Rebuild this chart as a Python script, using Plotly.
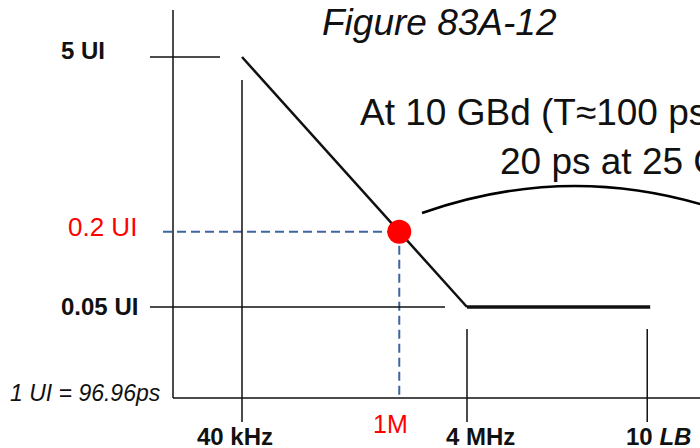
import math
import plotly.graph_objects as go

# ---------------- data ----------------
mask_diag_freq = [40e3, 4e6]          # Hz
mask_diag_ui = [5, 0.05]              # UI
mask_flat_freq = [4e6, 1.7e8]
mask_flat_ui = [0.05, 0.05]

point_freq = [1e6]
point_ui = [0.2]

freq_tick_vals = [40e3, 1e6, 4e6, 1.6e8]
freq_tick_labels = ["<b>40 kHz</b>", "1M", "<b>4 MHz</b>", "<b>10 <i>LB</i></b>"]
ui_tick_vals = [5, 0.2, 0.05]
ui_tick_labels = ["<b>5 UI</b>", "0.2 UI", "<b>0.05 UI</b>"]

title_text = "<i>Figure 83A-12</i>"
note_line1 = "At 10 GBd (T≈100 ps)"
note_line2 = "20 ps at 25 GBd"
ui_note = "<i>1 UI = 96.96ps</i>"

# ---------------- scale setup ----------------
W, H = 700, 448
PX_X = 112.5   # pixels per decade (x)
PX_Y = 125.0   # pixels per decade (y)
xmin_log = math.log10(40e3) - 242 / PX_X
xmax_log = xmin_log + W / PX_X
ymax_log = math.log10(5) + 57 / PX_Y
ymin_log = ymax_log - H / PX_Y


def px_to_x(px):
    return 10 ** (xmin_log + px / PX_X)


def px_to_y(py):
    return 10 ** (ymax_log - py / PX_Y)


def pxp(px):
    return px / W


def pyp(py):
    return 1 - py / H


FONT = "Arial, 'Liberation Sans', sans-serif"
BLACK = "#111111"
RED = "#ff0000"
BLUE = "#3d66a0"

fig = go.Figure()

# dashed guides to the point
fig.add_trace(go.Scatter(x=[px_to_x(163), point_freq[0]], y=[point_ui[0], point_ui[0]],
                         mode="lines", line=dict(color=BLUE, width=2, dash="9px,5px"),
                         hoverinfo="skip"))
fig.add_trace(go.Scatter(x=[point_freq[0], point_freq[0]], y=[point_ui[0], px_to_y(398)],
                         mode="lines", line=dict(color=BLUE, width=2, dash="9px,5px"),
                         hoverinfo="skip"))
# mask
fig.add_trace(go.Scatter(x=mask_diag_freq, y=mask_diag_ui, mode="lines",
                         line=dict(color=BLACK, width=2.5), hoverinfo="skip"))
fig.add_trace(go.Scatter(x=mask_flat_freq, y=mask_flat_ui, mode="lines",
                         line=dict(color=BLACK, width=3.5), hoverinfo="skip"))
# point
fig.add_trace(go.Scatter(x=point_freq, y=point_ui, mode="markers",
                         marker=dict(color=RED, size=24, line=dict(width=0)), hoverinfo="skip"))

shapes = []
LW = 1.5
# axes
shapes.append(dict(type="line", xref="paper", yref="paper", x0=pxp(173), x1=pxp(173),
                   y0=pyp(398), y1=pyp(10), line=dict(color=BLACK, width=LW)))
shapes.append(dict(type="line", xref="paper", yref="paper", x0=pxp(173), x1=1.0,
                   y0=pyp(398), y1=pyp(398), line=dict(color=BLACK, width=LW)))
# y tick lines
shapes.append(dict(type="line", xref="paper", yref="y", x0=pxp(150), x1=pxp(220),
                   y0=ui_tick_vals[0], y1=ui_tick_vals[0], line=dict(color=BLACK, width=LW)))
shapes.append(dict(type="line", xref="paper", yref="y", x0=pxp(150), x1=pxp(445),
                   y0=ui_tick_vals[2], y1=ui_tick_vals[2], line=dict(color=BLACK, width=LW)))
# x tick lines
shapes.append(dict(type="line", xref="x", yref="paper", x0=freq_tick_vals[0], x1=freq_tick_vals[0],
                   y0=pyp(422), y1=pyp(80), line=dict(color=BLACK, width=LW)))
shapes.append(dict(type="line", xref="x", yref="paper", x0=freq_tick_vals[2], x1=freq_tick_vals[2],
                   y0=pyp(422), y1=pyp(329), line=dict(color=BLACK, width=LW)))
shapes.append(dict(type="line", xref="x", yref="paper", x0=freq_tick_vals[3], x1=freq_tick_vals[3],
                   y0=pyp(422), y1=pyp(329), line=dict(color=BLACK, width=LW)))
# callout arc
arc = "M {:.4f},{:.4f} Q {:.4f},{:.4f} {:.4f},{:.4f}".format(
    pxp(422), pyp(213), pxp(575), pyp(159), pxp(728), pyp(213))
shapes.append(dict(type="path", xref="paper", yref="paper", path=arc,
                   line=dict(color="black", width=2.5)))

annotations = []


def add_text(text, px, py, size, color=BLACK, anchor="left"):
    annotations.append(dict(text=text, xref="paper", yref="paper", x=pxp(px), y=pyp(py),
                            xanchor=anchor, yanchor="middle", showarrow=False,
                            font=dict(family=FONT, size=size, color=color)))


add_text(title_text, 320, 22, 37)
add_text(note_line1, 358, 112, 37)
add_text(note_line2, 498, 161, 37)
add_text(ui_tick_labels[0], 59, 50, 24)
add_text(ui_tick_labels[1], 66, 227, 26, RED)
add_text(ui_tick_labels[2], 59, 306, 24)
add_text(ui_note, 8, 393, 23)
add_text(freq_tick_labels[0], 195, 436, 24)
add_text(freq_tick_labels[1], 371, 424, 25, RED)
add_text(freq_tick_labels[2], 444, 436, 24)
add_text(freq_tick_labels[3], 624, 436, 24)

fig.update_layout(
    width=W, height=H, autosize=False,
    margin=dict(l=0, r=0, t=0, b=0, pad=0),
    paper_bgcolor="white", plot_bgcolor="white",
    showlegend=False, hovermode=False,
    xaxis=dict(type="log", range=[xmin_log, xmax_log], visible=False, domain=[0, 1]),
    yaxis=dict(type="log", range=[ymin_log, ymax_log], visible=False, domain=[0, 1]),
    shapes=shapes, annotations=annotations,
)

fig.write_html("out.html", config={"displayModeBar": False, "staticPlot": True},
               post_script="document.body.style.margin='0';document.body.style.overflow='hidden';")
